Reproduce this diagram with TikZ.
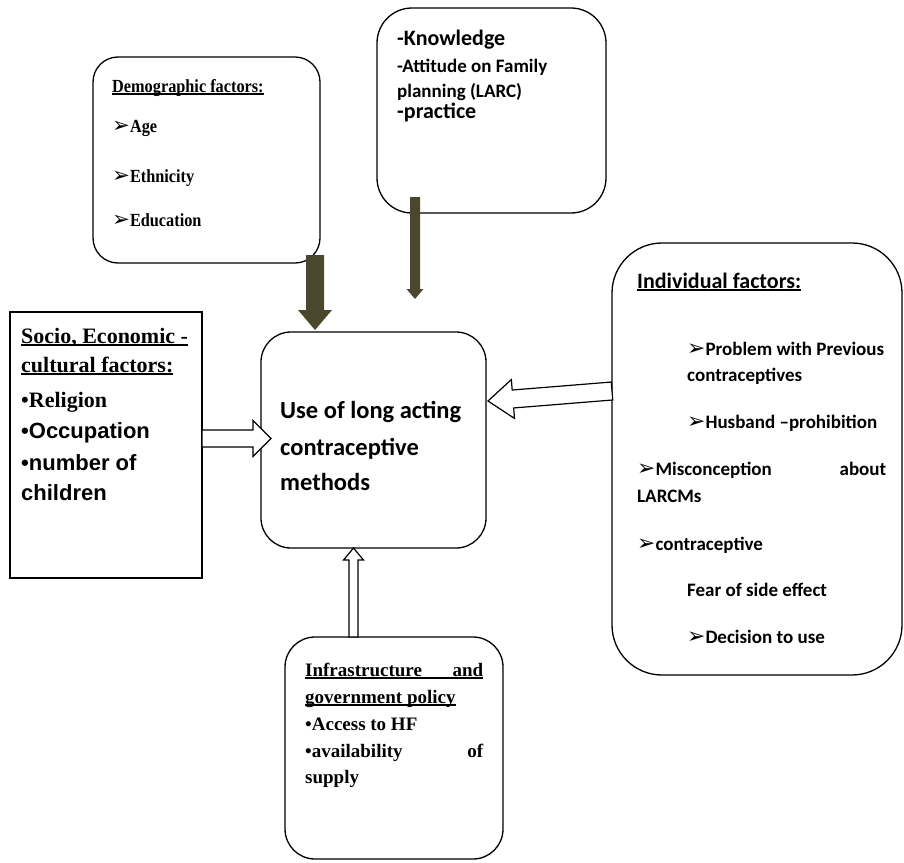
\documentclass[tikz,border=0pt]{standalone}
\usepackage{fontspec}
\setmainfont{Liberation Serif}
\newfontfamily\calfont{Carlito}
\newfontfamily\arialfont{Liberation Sans}
\newfontfamily\symfont[Scale=1.15]{DejaVu Sans}
\newfontfamily\narrowserif[FakeStretch=0.88]{Liberation Serif}
\usetikzlibrary{calc}
\definecolor{arrowolive}{RGB}{75,70,46}
\newcommand\myul[1]{\setbox0=\hbox{#1}\rlap{\rule[-0.14em]{\wd0}{0.08em}}\box0}
\newcommand\arr{{\symfont ➢}}
\newcommand\fs[1]{\fontsize{#1}{#1}\selectfont}
\newcommand\blockarrow[6]{%
  \coordinate (bh) at ($(#3)!#6!(#2)$);
  \path[#1] ($(#2)!#4!90:(#3)$) -- ($(bh)!#4!90:(#3)$) -- ($(bh)!#5!90:(#3)$) -- (#3)
    -- ($(bh)!#5!-90:(#3)$) -- ($(bh)!#4!-90:(#3)$) -- ($(#2)!#4!-90:(#3)$) -- cycle;}
\tikzset{
  rbox/.style={draw, line width=1.3pt, fill=white, inner sep=0pt},
  txt/.style={inner sep=0pt, anchor=base west},
  tnr/.style={txt, font=\bfseries\fs{#1}},
  ntnr/.style={txt, font=\narrowserif\bfseries\fs{#1}},
  cal/.style={txt, font=\calfont\bfseries\fs{#1}},
  ari/.style={txt, font=\arialfont\bfseries\fs{#1}},
  darrow/.style={fill=arrowolive},
  harrow/.style={draw, fill=white, line width=1.2pt, line join=miter},
}
\begin{document}
\begin{tikzpicture}[x=1pt,y=-1pt]
\useasboundingbox[fill=white] (0,0) rectangle (904,862);
% boxes
\node[rbox, rounded corners=25pt, minimum width=227pt, minimum height=206pt] (demo) at (206.5,160) {};
\node[rbox, rounded corners=35pt, minimum width=229pt, minimum height=205pt] (know) at (491.5,110.5) {};
\node[rbox, minimum width=192pt, minimum height=266pt] (socio) at (106,445) {};
\node[rbox, rounded corners=30pt, minimum width=225pt, minimum height=216pt] (use) at (373.5,440) {};
\node[rbox, rounded corners=50pt, minimum width=290pt, minimum height=432pt] (indiv) at (757,459) {};
\node[rbox, rounded corners=30pt, minimum width=218pt, minimum height=222pt] (infra) at (394,748) {};
% arrow end points
\coordinate (demoS) at (315,255);  \coordinate (demoT) at (315,330);
\coordinate (knowS) at (415,197);  \coordinate (knowT) at (415,299);
\coordinate (socS) at (202,438.5); \coordinate (socT) at (271,438.5);
\coordinate (indS) at (612,391);   \coordinate (indT) at (488,401);
\coordinate (infS) at (353.5,637); \coordinate (infT) at (353.5,548);
\blockarrow{darrow}{demoS}{demoT}{9pt}{17pt}{20pt}
\blockarrow{darrow}{knowS}{knowT}{5pt}{8.5pt}{10pt}
\blockarrow{harrow}{socS}{socT}{8.5pt}{18pt}{18pt}
\blockarrow{harrow}{indS}{indT}{9pt}{19.5pt}{25pt}
\blockarrow{harrow}{infS}{infT}{4.5pt}{10pt}{12pt}
% demographic
\node[ntnr=18.5] (d1) at (112,92) {\myul{Demographic factors:}};
\node[ntnr=18.5] (d2) at (112,132) {\arr Age};
\node[ntnr=18.5] (d3) at (112,182) {\arr Ethnicity};
\node[ntnr=18.5] (d4) at (112,226) {\arr Education};
% knowledge
\node[cal=22] (k1) at (397,45) {-Knowledge};
\node[cal=19] (k2) at (397,72) {-Attitude on Family};
\node[cal=19] (k3) at (397,97) {planning (LARC)};
\node[cal=22] (k4) at (397,118) {-practice};
% socio
\node[tnr=22] (s1) at (21,343) {\myul{Socio, Economic -}};
\node[tnr=22] (s2) at (21,372) {\myul{cultural factors:}};
\node[tnr=22] (s3) at (21,407) {•Religion};
\node[ari=22] (s4) at (21,438) {•Occupation};
\node[ari=22] (s5) at (21,470) {•number of};
\node[ari=22] (s6) at (21,500) {children};
% centre
\node[cal=24.5] (u1) at (280,418) {Use of long acting};
\node[cal=24.5] (u2) at (280,455) {contraceptive};
\node[cal=24.5] (u3) at (280,490) {methods};
% individual
\node[cal=22] (i1) at (637,288) {\myul{Individual factors:}};
\node[cal=19] (i2) at (687,355) {\arr Problem with Previous};
\node[cal=19] (i3) at (687,381) {contraceptives};
\node[cal=19] (i4) at (687,428) {\arr Husband –prohibition};
\node[cal=19] (i5) at (637,475) {\makebox[249pt][s]{\arr Misconception about}};
\node[cal=19] (i6) at (637,502) {LARCMs};
\node[cal=19] (i7) at (637,550) {\arr contraceptive};
\node[cal=19] (i8) at (687,596) {Fear of side effect};
\node[cal=19] (i9) at (687,643) {\arr Decision to use};
% infrastructure
\node[tnr=19] (f1) at (305,676) {\myul{\makebox[178pt][s]{Infrastructure and}}};
\node[tnr=19] (f2) at (305,703) {\myul{government policy}};
\node[tnr=19] (f3) at (305,730) {•Access to HF};
\node[tnr=19] (f4) at (305,757) {\makebox[178pt][s]{•availability of}};
\node[tnr=19] (f5) at (305,783) {supply};
\end{tikzpicture}
\end{document}
